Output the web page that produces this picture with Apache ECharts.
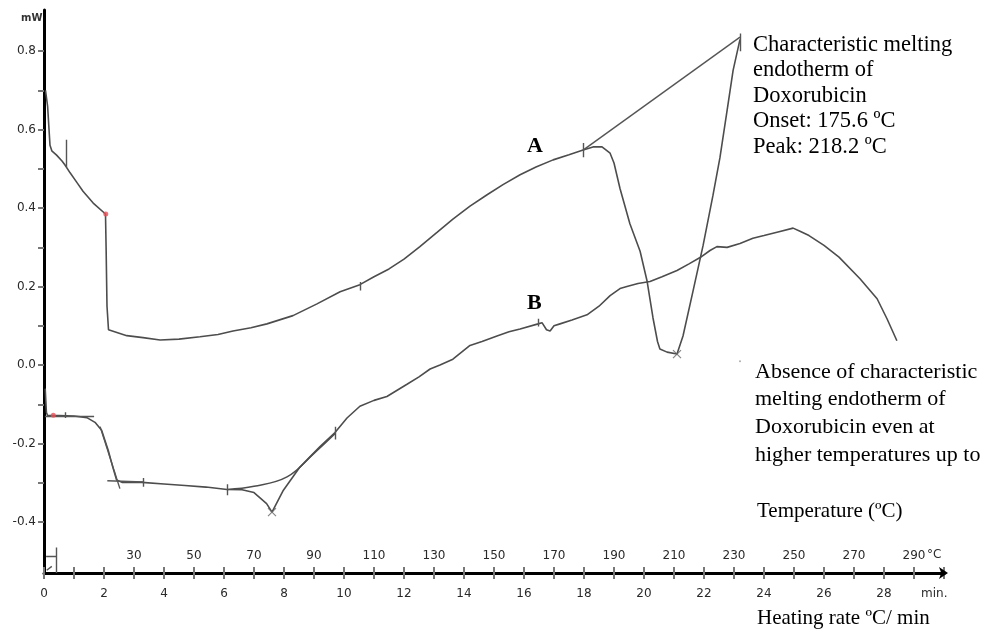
<!DOCTYPE html>
<html>
<head>
<meta charset="utf-8">
<script src="https://cdn.jsdelivr.net/npm/echarts@6/dist/echarts.min.js"></script>
<style>
html,body{margin:0;padding:0;background:#fff;}
#chart{width:994px;height:633px;}
</style>
</head>
<body>
<div id="chart"></div>
<script>
// ---- data (time in min, heat flow in mW) ----
var curveA = [[0.05,0.70],[0.12,0.66],[0.2,0.56],[0.26,0.546],[0.42,0.535],[0.6,0.52],[0.7,0.51],[0.87,0.49],[1.1,0.465],[1.3,0.443],[1.64,0.413],[2.05,0.385],[2.07,0.30],[2.1,0.15],[2.15,0.09],[2.2,0.085],[2.76,0.075],[3.3,0.07],[3.87,0.064],[4.5,0.066],[5.2,0.072],[5.8,0.078],[6.3,0.087],[6.9,0.095],[7.43,0.105],[8.3,0.126],[9.1,0.156],[9.87,0.187],[10.53,0.205],[11.0,0.225],[11.5,0.245],[12.0,0.27],[12.53,0.302],[13.1,0.338],[13.63,0.372],[14.2,0.405],[14.77,0.434],[15.3,0.46],[15.87,0.485],[16.4,0.505],[16.97,0.523],[17.5,0.536],[17.97,0.548],[18.3,0.556],[18.6,0.556],[18.87,0.54],[19.0,0.515],[19.2,0.45],[19.53,0.36],[19.87,0.29],[20.1,0.215],[20.3,0.12],[20.45,0.06],[20.53,0.041],[20.77,0.033],[21.1,0.028],[21.3,0.074],[21.63,0.187],[21.97,0.305],[22.3,0.433],[22.53,0.528],[22.77,0.649],[22.97,0.751],[23.2,0.83]];

var curveB = [[0.04,-0.06],[0.08,-0.12],[0.12,-0.129],[0.5,-0.129],[1.0,-0.13],[1.43,-0.134],[1.7,-0.146],[1.92,-0.166],[2.14,-0.217],[2.3,-0.262],[2.42,-0.293],[2.6,-0.299],[3.26,-0.299],[4.0,-0.303],[4.7,-0.307],[5.4,-0.311],[6.1,-0.317],[6.6,-0.318],[7.0,-0.325],[7.42,-0.353],[7.6,-0.375],[7.98,-0.319],[8.53,-0.26],[9.2,-0.208],[9.7,-0.172],[10.1,-0.135],[10.53,-0.105],[11.0,-0.09],[11.43,-0.08],[12.1,-0.049],[12.5,-0.03],[12.87,-0.01],[13.2,0.0],[13.63,0.015],[14.2,0.05],[14.6,0.06],[15.1,0.074],[15.5,0.085],[15.87,0.092],[16.47,0.105],[16.6,0.108],[16.75,0.09],[16.87,0.087],[17.0,0.1],[17.2,0.105],[17.6,0.115],[18.1,0.128],[18.5,0.15],[18.87,0.177],[19.2,0.195],[19.43,0.2],[19.8,0.208],[20.2,0.213],[20.6,0.225],[21.1,0.241],[21.5,0.258],[21.87,0.274],[22.2,0.292],[22.43,0.302],[22.77,0.30],[23.2,0.31],[23.63,0.323],[24.0,0.33],[24.5,0.34],[24.97,0.349],[25.2,0.341],[25.5,0.33],[26.0,0.305],[26.5,0.275],[27.2,0.22],[27.77,0.169],[28.1,0.118],[28.43,0.062]];

var baselineB = [[6.1,-0.317],[7.0,-0.309],[8.1,-0.285],[9.0,-0.225],[9.7,-0.175]];

// tangent / evaluation lines drawn by the instrument software
var tangentA = [[17.97,0.548],[23.2,0.836]];
var tangentB1 = [[0.03,-0.13],[1.67,-0.13]];
var tangentB2 = [[1.87,-0.157],[2.53,-0.315]];
var tangentB3 = [[2.11,-0.295],[3.31,-0.298]];
// small evaluation tick marks
var markA1 = [[0.73,0.505],[0.73,0.574]];
var markA2 = [[10.53,0.19],[10.53,0.212]];
var markA3 = [[17.97,0.53],[17.97,0.566]];
var markA4 = [[23.2,0.80],[23.2,0.845]];
var markB1 = [[0.7,-0.12],[0.7,-0.135]];
var markB2 = [[3.3,-0.288],[3.3,-0.31]];
var markB3 = [[6.1,-0.304],[6.1,-0.332]];
var markB4 = [[9.7,-0.157],[9.7,-0.19]];
var markB5 = [[16.47,0.098],[16.47,0.118]];
var origin1 = [[0.42,-0.465],[0.42,-0.53]];
var origin2 = [[0.07,-0.487],[0.42,-0.487]];
var origin3 = [[0.09,-0.523],[0.26,-0.513]];
var peakCrosses = [[7.6,-0.375],[21.1,0.028]];
var redDots = [[2.06,0.385],[0.31,-0.128]];
var strayDot = [[23.2,0.01]];

// axis ticks / labels
var yLabelValues = [-0.4,-0.2,0.0,0.2,0.4,0.6,0.8];
var yTickValues = [-0.4,-0.3,-0.2,-0.1,0.0,0.1,0.2,0.3,0.4,0.5,0.6,0.7,0.8];
var minLabels = [0,2,4,6,8,10,12,14,16,18,20,22,24,26,28];
var tempLabels = [30,50,70,90,110,130,150,170,190,210,230,250,270,290];

var segs = [tangentA,tangentB1,tangentB2,tangentB3,markA1,markA2,markA3,markA4,markB1,markB2,markB3,markB4,markB5,origin1,origin2,origin3];

var lineColor = '#4d4d4d';
var axisFont = 'DejaVu Sans';
var chart = echarts.init(document.getElementById('chart'));
chart.setOption({
  animation:false,
  backgroundColor:'#fff',
  grid:{left:44,right:50,top:10,bottom:60,containLabel:false},
  xAxis:[{
    type:'value',min:0,max:30,interval:1,position:'bottom',
    axisLine:{show:true,onZero:false,lineStyle:{color:'#000',width:3},symbol:['none','arrow'],symbolSize:[9,9],symbolOffset:[0,4]},
    axisTick:{show:true,length:6,lineStyle:{color:'#777',width:2}},
    axisLabel:{margin:15,color:'#2a2a2a',fontFamily:axisFont,fontSize:12,
      formatter:function(v){return minLabels.indexOf(v)>=0?String(v):'';}},
    splitLine:{show:false}
  },{
    type:'value',min:0,max:300,interval:10,position:'bottom',offset:0,
    axisLine:{show:false,onZero:false},
    axisTick:{show:true,inside:true,length:6,lineStyle:{color:'#777',width:2}},
    axisLabel:{inside:true,margin:11,color:'#2a2a2a',fontFamily:axisFont,fontSize:12,
      formatter:function(v){return tempLabels.indexOf(v)>=0?String(v):'';}},
    splitLine:{show:false}
  }],
  yAxis:{
    type:'value',min:-0.53,max:0.905,
    axisLine:{show:true,onZero:false,lineStyle:{color:'#000',width:3}},
    axisTick:{show:true,length:6,customValues:yTickValues,lineStyle:{color:'#777',width:2}},
    axisLabel:{customValues:yLabelValues,margin:8,color:'#2a2a2a',fontFamily:axisFont,fontSize:12,
      formatter:function(v){return v.toFixed(1);}},
    splitLine:{show:false}
  },
  series:[
    {type:'line',data:curveA,showSymbol:false,lineStyle:{color:lineColor,width:1.6},z:3},
    {type:'line',data:curveB,showSymbol:false,lineStyle:{color:lineColor,width:1.6},z:3},
    {type:'line',data:baselineB,showSymbol:false,smooth:0.4,lineStyle:{color:lineColor,width:1.5},z:3},
    {type:'lines',coordinateSystem:'cartesian2d',polyline:false,
      lineStyle:{color:'#555',width:1.4,opacity:1},
      data:segs.map(function(s){return {coords:s};}),z:4},
    {type:'scatter',data:peakCrosses,symbol:'path://M0,0L10,10M10,0L0,10',symbolSize:8,
      itemStyle:{color:'rgba(0,0,0,0)',borderColor:'#666',borderWidth:1.2},z:5},
    {type:'scatter',data:redDots,symbol:'circle',symbolSize:5,itemStyle:{color:'#e8505a'},z:6},
    {type:'scatter',data:strayDot,symbol:'circle',symbolSize:2,itemStyle:{color:'#999'},z:6}
  ],
  graphic:[
    {type:'text',left:21,top:13,style:{text:'mW',font:'bold 10px "DejaVu Sans"',fill:'#333'}},
    {type:'text',left:927,top:549,style:{text:'°C',font:'12px "DejaVu Sans"',fill:'#2a2a2a'}},
    {type:'text',left:921,top:588,style:{text:'min.',font:'12px "DejaVu Sans"',fill:'#2a2a2a'}},
    {type:'text',left:527,top:135,style:{text:'A',font:'bold 22px "Liberation Serif"',fill:'#000'}},
    {type:'text',left:527,top:292,style:{text:'B',font:'bold 22px "Liberation Serif"',fill:'#000'}},
    {type:'text',left:753,top:32,style:{text:'Characteristic melting\nendotherm of\nDoxorubicin\nOnset: 175.6 ºC\nPeak: 218.2 ºC',
      font:'22.5px "Liberation Serif"',lineHeight:25.5,fill:'#000'}},
    {type:'text',left:755,top:358,style:{text:'Absence of characteristic\nmelting endotherm of\nDoxorubicin even at\nhigher temperatures up to',
      font:'22px "Liberation Serif"',lineHeight:27.7,fill:'#000'}},
    {type:'text',left:757,top:501,style:{text:'Temperature (ºC)',font:'21px "Liberation Serif"',fill:'#000'}},
    {type:'text',left:757,top:608,style:{text:'Heating rate ºC/ min',font:'21px "Liberation Serif"',fill:'#000'}}
  ]
});
</script>
</body>
</html>
